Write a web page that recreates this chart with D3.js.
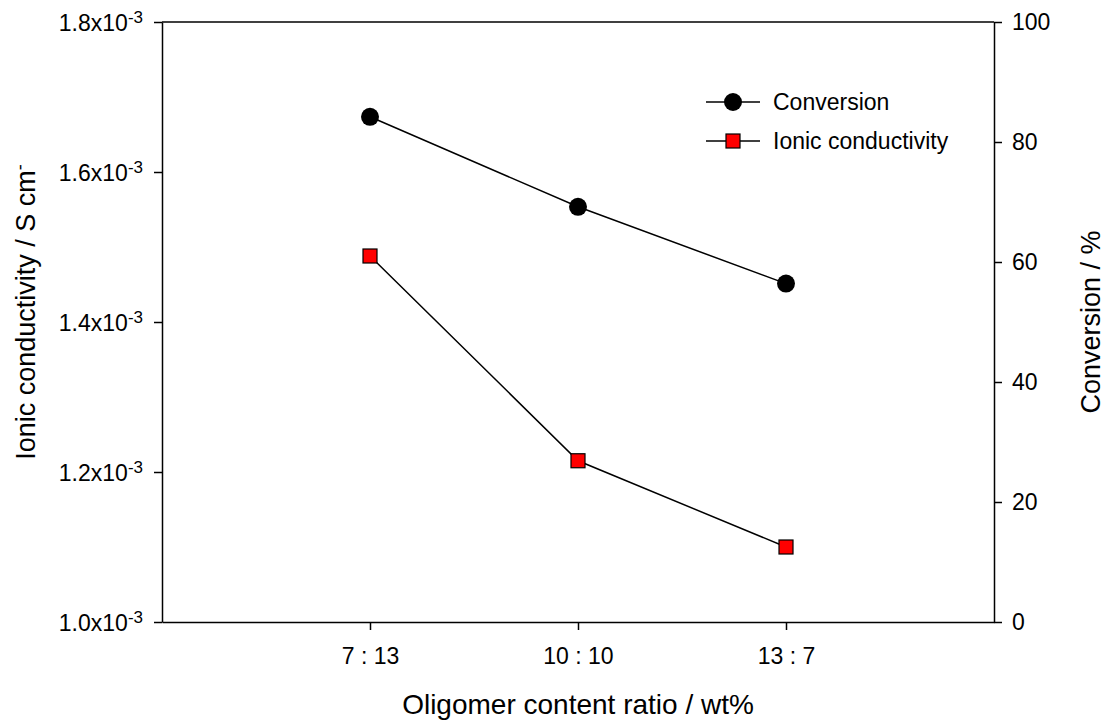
<!DOCTYPE html>
<html>
<head>
<meta charset="utf-8">
<script src="https://cdn.jsdelivr.net/npm/d3@7"></script>
<style>
  body { margin: 0; background: #fff; }
  svg text { font-family: "Liberation Sans", Arial, sans-serif; fill: #000; }
</style>
</head>
<body>
<div id="chart"></div>
<script>
const categories = ["7 : 13", "10 : 10", "13 : 7"];
const conversion = [84.2, 69.2, 56.4];
const conductivity = [1.488e-3, 1.215e-3, 1.100e-3];
const leftTicks = [1.0e-3, 1.2e-3, 1.4e-3, 1.6e-3, 1.8e-3];
const rightTicks = [0, 20, 40, 60, 80, 100];

const size = { width: 1107, height: 721 };
const plot = { left: 162, right: 994, top: 22, bottom: 622 };

const svg = d3.select("#chart").append("svg")
  .attr("width", size.width)
  .attr("height", size.height);

// categories sit at 1,2,3 on a 0..4 axis
const x = d3.scaleLinear().domain([0, 4]).range([plot.left, plot.right]);
const yLeft = d3.scaleLinear().domain([1.0e-3, 1.8e-3]).range([plot.bottom, plot.top]);
const yRight = d3.scaleLinear().domain([0, 100]).range([plot.bottom, plot.top]);

drawAxes();
drawSeries();
drawLegend();

function drawAxes() {
  // frame: top line
  svg.append("line")
    .attr("x1", plot.left).attr("x2", plot.right)
    .attr("y1", plot.top).attr("y2", plot.top)
    .attr("stroke", "#000").attr("stroke-width", 1.5);

  const bottom = svg.append("g")
    .attr("transform", `translate(0,${plot.bottom})`)
    .call(d3.axisBottom(x).tickValues([1, 2, 3]).tickSize(8).tickSizeOuter(0)
      .tickFormat(d => categories[d - 1]));
  styleAxis(bottom);
  bottom.selectAll("text").attr("y", 42).attr("dy", null);

  const left = svg.append("g")
    .attr("transform", `translate(${plot.left},0)`)
    .call(d3.axisLeft(yLeft).tickValues(leftTicks).tickSize(8).tickSizeOuter(0).tickFormat(""));
  styleAxis(left);
  left.selectAll(".tick").append("text")
    .attr("x", -19).attr("dy", "0.35em")
    .attr("text-anchor", "end")
    .style("font-size", "23px")
    .each(function (d) {
      const t = d3.select(this);
      t.append("tspan").text((d * 1000).toFixed(1) + "x10");
      t.append("tspan").attr("dy", "-0.45em").style("font-size", "17px").text("-3");
    });

  const right = svg.append("g")
    .attr("transform", `translate(${plot.right},0)`)
    .call(d3.axisRight(yRight).tickValues(rightTicks).tickSize(8).tickSizeOuter(0));
  styleAxis(right);
  right.selectAll("text").attr("x", 18);

  svg.append("text")
    .attr("x", 578).attr("y", 714)
    .attr("text-anchor", "middle")
    .style("font-size", "28px")
    .text("Oligomer content ratio / wt%");

  const yl = svg.append("text")
    .attr("transform", "translate(35,312) rotate(-90)")
    .attr("text-anchor", "middle")
    .style("font-size", "27px");
  yl.append("tspan").text("Ionic conductivity / S cm");
  yl.append("tspan").attr("dy", "-0.5em").style("font-size", "18px").text("-");

  svg.append("text")
    .attr("transform", "translate(1100,322) rotate(-90)")
    .attr("text-anchor", "middle")
    .style("font-size", "27px")
    .text("Conversion / %");
}

function styleAxis(g) {
  g.select(".domain").attr("stroke", "#000").attr("stroke-width", 1.5);
  g.selectAll(".tick line").attr("stroke", "#000").attr("stroke-width", 1.5);
  g.selectAll("text").style("font-size", "23px").attr("fill", "#000");
}

function drawSeries() {
  const convLine = d3.line().x((d, i) => x(i + 1)).y(d => yRight(d));
  const condLine = d3.line().x((d, i) => x(i + 1)).y(d => yLeft(d));

  svg.append("path")
    .attr("d", convLine(conversion))
    .attr("fill", "none").attr("stroke", "#000").attr("stroke-width", 1.5);

  svg.append("path")
    .attr("d", condLine(conductivity))
    .attr("fill", "none").attr("stroke", "#000").attr("stroke-width", 1.5);

  svg.selectAll("circle.conv")
    .data(conversion)
    .enter().append("circle")
    .attr("class", "conv")
    .attr("cx", (d, i) => x(i + 1))
    .attr("cy", d => yRight(d))
    .attr("r", 9)
    .attr("fill", "#000");

  svg.selectAll("rect.cond")
    .data(conductivity)
    .enter().append("rect")
    .attr("class", "cond")
    .attr("x", (d, i) => x(i + 1) - 7)
    .attr("y", d => yLeft(d) - 7)
    .attr("width", 14).attr("height", 14)
    .attr("fill", "#ff0000")
    .attr("stroke", "#000").attr("stroke-width", 1.2);
}

function drawLegend() {
  const items = [
    { label: "Conversion", shape: "circle", y: 102 },
    { label: "Ionic conductivity", shape: "square", y: 141 },
  ];
  const g = svg.selectAll("g.legend")
    .data(items)
    .enter().append("g")
    .attr("class", "legend")
    .attr("transform", d => `translate(706,${d.y})`);

  g.append("line")
    .attr("x1", 0).attr("x2", 54)
    .attr("stroke", "#000").attr("stroke-width", 1.5);

  g.filter(d => d.shape === "circle").append("circle")
    .attr("cx", 27).attr("r", 9).attr("fill", "#000");

  g.filter(d => d.shape === "square").append("rect")
    .attr("x", 20).attr("y", -7).attr("width", 14).attr("height", 14)
    .attr("fill", "#ff0000").attr("stroke", "#000").attr("stroke-width", 1.2);

  g.append("text")
    .attr("x", 67).attr("dy", "0.35em")
    .style("font-size", "23px")
    .text(d => d.label);
}
</script>
</body>
</html>
